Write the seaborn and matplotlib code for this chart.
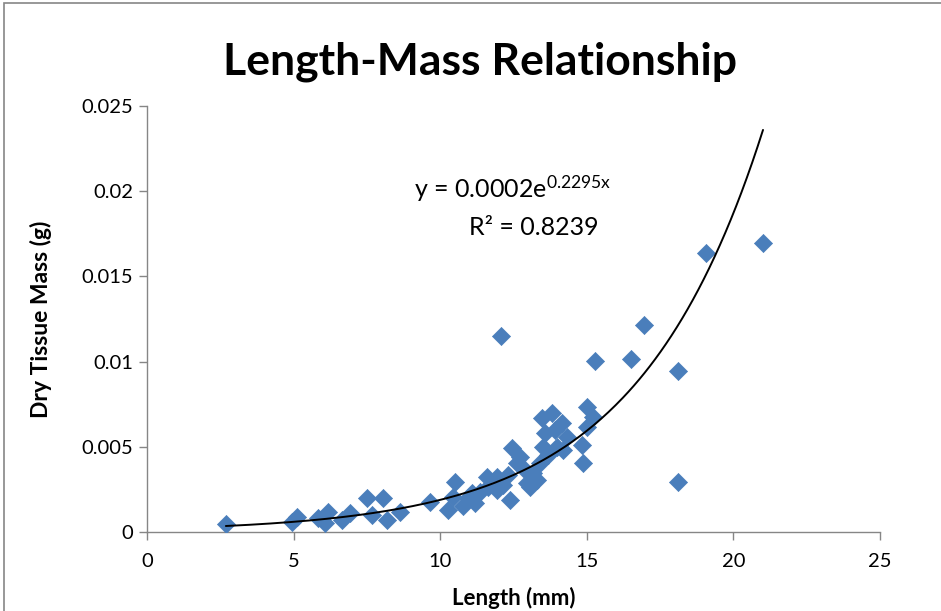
import numpy as np
import pandas as pd
import matplotlib
matplotlib.use("Agg")
import matplotlib.pyplot as plt
import seaborn as sns
from matplotlib.patches import Rectangle

length_mm = [2.69, 4.95, 5.12, 5.83, 6.17, 6.07, 6.65, 6.92, 7.50, 7.67, 8.05, 8.19, 8.63,
             9.65, 10.27, 10.50, 10.44, 10.78, 10.95, 11.08, 11.19, 11.36, 11.60, 11.63,
             11.94, 11.94, 12.14, 12.38, 12.31, 12.45, 12.62, 12.72, 12.96, 13.06, 13.16,
             13.30, 13.40, 13.51, 13.47, 13.57, 13.81, 13.92, 13.98, 14.15, 14.19, 14.32,
             14.84, 14.87, 15.01, 15.21, 15.01, 12.07, 15.28, 16.51, 16.95, 18.11, 18.11,
             19.07, 21.01, 13.68, 12.89]
dry_mass_g = [0.00047, 0.00059, 0.00088, 0.00082, 0.00117, 0.00053, 0.00070, 0.00112,
              0.00200, 0.00100, 0.00200, 0.00070, 0.00117, 0.00176, 0.00129, 0.00293,
              0.00205, 0.00153, 0.00200, 0.00229, 0.00170, 0.00235, 0.00323, 0.00264,
              0.00323, 0.00246, 0.00276, 0.00188, 0.00335, 0.00493, 0.00405, 0.00440,
              0.00288, 0.00264, 0.00346, 0.00305, 0.00405, 0.00499, 0.00669, 0.00581,
              0.00698, 0.00599, 0.00499, 0.00640, 0.00481, 0.00558, 0.00511, 0.00405,
              0.00734, 0.00675, 0.00616, 0.01150, 0.01004, 0.01015, 0.01215, 0.00945,
              0.00293, 0.01637, 0.01696, 0.00452, 0.00364]

trend_a = 0.00019
trend_b = 0.2295
equation_text = r"y = 0.0002e$\mathregular{^{0.2295x}}$"
r2_text = "R² = 0.8239"
title_text = "Length-Mass Relationship"
x_label = "Length (mm)"
y_label = "Dry Tissue Mass (g)"
x_ticks = [0, 5, 10, 15, 20, 25]
y_ticks = [0, 0.005, 0.01, 0.015, 0.02, 0.025]
y_tick_labels = ["0", "0.005", "0.01", "0.015", "0.02", "0.025"]

df = pd.DataFrame({"length": length_mm, "mass": dry_mass_g})
xs = np.linspace(min(length_mm), max(length_mm), 300)
trend = pd.DataFrame({"length": xs, "mass": trend_a * np.exp(trend_b * xs)})

sns.set_theme(style="white")
plt.rcParams["font.family"] = ["Lato", "DejaVu Sans"]
plt.rcParams["text.color"] = "black"
plt.rcParams["axes.labelcolor"] = "black"
plt.rcParams["mathtext.fontset"] = "custom"
plt.rcParams["mathtext.rm"] = "Lato"

W, H = 941, 611
fig = plt.figure(figsize=(W / 100, H / 100), dpi=100)
ax = fig.add_axes([147 / W, 1 - 532 / H, (880 - 147) / W, (532 - 106) / H])

sns.scatterplot(data=df, x="length", y="mass", ax=ax, marker="D", s=85,
                color="#4a7ebb", edgecolor="#4a7ebb", linewidth=0.5, zorder=3)
sns.lineplot(data=trend, x="length", y="mass", ax=ax, color="black", linewidth=1.4, zorder=4)

ax.set_xlim(0, 25)
ax.set_ylim(0, 0.025)
ax.set_xticks(x_ticks)
ax.set_xticklabels([str(t) for t in x_ticks])
ax.set_yticks(y_ticks)
ax.set_yticklabels(y_tick_labels)
ax.tick_params(axis="both", which="major", labelsize=14.5, length=6, width=1,
               direction="out", bottom=True, left=True, color="#868686", labelcolor="black")
ax.tick_params(axis="x", pad=9)
ax.tick_params(axis="y", pad=4)
for side in ["top", "right"]:
    ax.spines[side].set_visible(False)
for side in ["left", "bottom"]:
    ax.spines[side].set_color("#868686")
    ax.spines[side].set_linewidth(1)

ax.set_xlabel(x_label, fontsize=16, fontweight="bold", labelpad=12, color="black")
ax.set_ylabel(y_label, fontsize=16.5, fontweight="bold", labelpad=21, color="black")

ax.text(0.499, 0.806, equation_text, transform=ax.transAxes, ha="center", va="center",
        fontsize=18, color="black")
ax.text(0.528, 0.715, r2_text, transform=ax.transAxes, ha="center", va="center",
        fontsize=18, color="black")

fig.text(480 / W, 1 - 62 / H, title_text, ha="center", va="center",
         fontsize=32, fontweight="bold", color="black")

fig.patches.append(Rectangle((4 / W, -0.1), 1.2, 1 - 3 / H + 0.1, transform=fig.transFigure,
                             fill=False, edgecolor="#868686", linewidth=1.2))

fig.savefig("out.png", dpi=100)
